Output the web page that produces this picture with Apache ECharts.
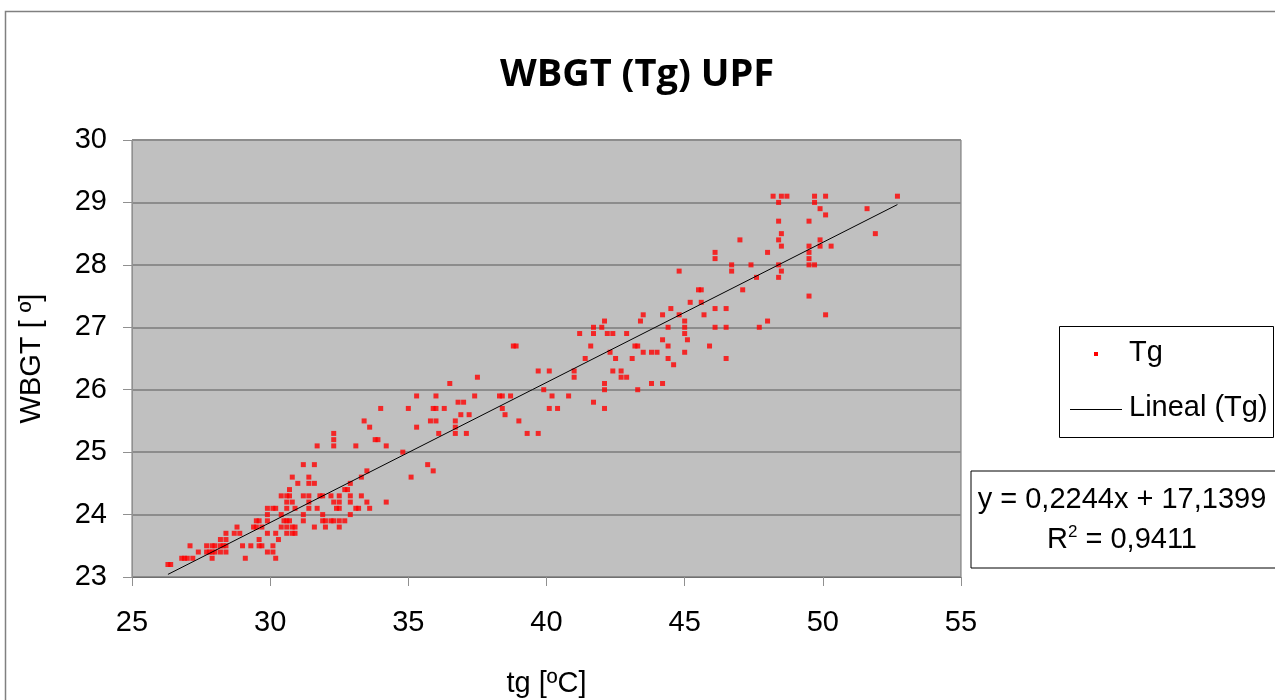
<!DOCTYPE html>
<html>
<head>
<meta charset="utf-8">
<title>WBGT (Tg) UPF</title>
<script src="https://cdn.jsdelivr.net/npm/echarts@6/dist/echarts.min.js"></script>
<style>
  html, body { margin: 0; padding: 0; background: #ffffff; }
  #chart { width: 1275px; height: 700px; }
</style>
</head>
<body>
<div id="chart"></div>
<script>
// WBGT readings grouped by value; each level lists the globe temperatures (tg) measured at it
const wbgtLevels = [
  23.2, 23.3, 23.4, 23.5, 23.6, 23.7, 23.8, 23.9, 24.0, 24.1,
  24.2, 24.3, 24.4, 24.5, 24.6, 24.7, 24.8, 25.0, 25.1, 25.2,
  25.3, 25.4, 25.5, 25.6, 25.7, 25.8, 25.9, 26.0, 26.1, 26.2,
  26.3, 26.4, 26.5, 26.6, 26.7, 26.8, 26.9, 27.0, 27.1, 27.2,
  27.3, 27.4, 27.5, 27.6, 27.8, 27.9, 28.0, 28.1, 28.2, 28.3,
  28.4, 28.5, 28.7, 28.8, 28.9, 29.0, 29.1
];
const tgAtLevel = [
  [26.3, 26.4],
  [26.8, 26.9, 27.0, 27.2, 27.9, 29.1, 30.2],
  [27.4, 27.7, 27.8, 27.9, 28.0, 28.2, 28.4, 29.9, 30.1],
  [27.1, 27.7, 27.9, 28.0, 28.2, 28.3, 28.4, 29.0, 29.3, 29.6, 29.7, 30.1],
  [28.2, 28.4, 29.6, 30.3],
  [28.4, 28.7, 28.9, 29.9, 30.2, 30.6, 30.8, 30.9],
  [28.8, 29.4, 29.5, 29.7, 30.4, 30.6, 30.8, 30.9, 31.6, 32.0, 32.5],
  [29.5, 29.6, 29.9, 30.5, 30.6, 30.7, 31.2, 31.9, 32.0, 32.2, 32.3, 32.5, 32.7],
  [29.9, 30.4, 31.2, 31.9, 32.9],
  [29.9, 30.1, 30.2, 30.6, 30.9, 31.4, 31.7, 32.4, 32.5, 33.1, 33.2, 33.6],
  [30.6, 30.8, 31.4, 32.3, 32.5, 32.9, 33.5, 34.2],
  [30.4, 30.6, 30.7, 31.2, 31.4, 31.8, 31.9, 32.2, 32.5, 32.9, 33.3],
  [30.7, 32.7, 32.8],
  [31.0, 31.4, 31.6, 32.9],
  [30.8, 31.4, 33.3, 35.1],
  [33.5, 35.9],
  [31.2, 31.6, 35.7],
  [34.8],
  [31.7, 32.3, 33.1, 34.2],
  [32.3, 33.8, 33.9],
  [32.3, 36.1, 36.7, 37.1, 39.3, 39.7],
  [33.6, 35.3, 36.7],
  [33.4, 35.8, 36.0, 36.7, 39.0],
  [36.9, 37.2, 38.5],
  [34.0, 35.0, 35.9, 36.0, 36.3, 38.4, 40.1, 40.4, 42.1],
  [36.8, 37.0, 41.7],
  [35.3, 36.0, 37.4, 38.3, 38.4, 38.7, 40.2, 40.8],
  [39.9, 42.1, 43.3],
  [36.5, 42.1, 43.8, 44.2],
  [37.5, 41.0, 42.7, 42.9],
  [39.7, 40.1, 41.0, 42.4, 42.7],
  [44.6],
  [41.4, 42.5, 43.1, 44.4, 46.5],
  [42.3, 43.5, 43.8, 44.0, 45.0],
  [38.8, 38.9, 41.6, 43.2, 43.3, 44.4, 45.9],
  [44.2, 45.1],
  [41.2, 41.7, 42.2, 42.4, 42.9, 45.0],
  [41.7, 42.0, 44.4, 45.0, 46.1, 46.5, 47.7],
  [42.1, 43.4, 45.0, 48.0],
  [43.5, 44.2, 44.8, 45.7, 50.1],
  [44.5, 46.1, 46.5],
  [45.2, 45.6],
  [49.5],
  [45.5, 45.6, 47.1],
  [47.6, 48.4],
  [44.8, 46.7, 48.5],
  [46.7, 47.4, 48.4, 49.5, 49.7],
  [46.1, 49.5],
  [46.1, 48.0, 49.5],
  [48.5, 49.5, 49.9, 50.3],
  [47.0, 48.4, 49.9],
  [48.5, 51.9],
  [48.4, 49.5],
  [50.1],
  [49.9, 51.6],
  [48.4, 49.7],
  [48.2, 48.5, 48.7, 49.7, 50.1, 52.7]
];

// Linear trendline coefficients
const slope = 0.2244;
const intercept = 17.1399;
const rSquared = 0.9411;

const xTicks = [25, 30, 35, 40, 45, 50, 55];
const yTicks = [23, 24, 25, 26, 27, 28, 29, 30];

// Build [tg, wbgt] pairs
const points = [];
wbgtLevels.forEach(function (w, i) {
  tgAtLevel[i].forEach(function (t) { points.push([t, w]); });
});

const tgValues = points.map(function (p) { return p[0]; });
const tgMin = Math.min.apply(null, tgValues);
const tgMax = Math.max.apply(null, tgValues);
const trend = [
  [tgMin, slope * tgMin + intercept],
  [tgMax, slope * tgMax + intercept]
];

const fmt = function (v, d) { return v.toFixed(d).replace('.', ','); };
const sign = intercept >= 0 ? ' + ' : ' - ';
const eqText = 'y = ' + fmt(slope, 4) + 'x' + sign + fmt(Math.abs(intercept), 4);
const r2Text = 'R{sup|2} = ' + fmt(rSquared, 4);

const FONT = '"Liberation Sans", Arial, sans-serif';

const chart = echarts.init(document.getElementById('chart'), null, { renderer: 'canvas' });

chart.setOption({
  backgroundColor: '#ffffff',
  animation: false,
  title: {
    text: 'WBGT (Tg) UPF',
    left: 632,
    textAlign: 'center',
    top: 51,
    textStyle: {
      fontFamily: '"Open Sans", sans-serif',
      fontWeight: 700,
      fontSize: 38,
      color: '#000000'
    }
  },
  grid: {
    left: 132,
    top: 140,
    width: 829,
    height: 437,
    containLabel: false,
    outerBoundsMode: 'none',
    show: true,
    backgroundColor: '#c0c0c0',
    borderColor: '#707070',
    borderWidth: 1
  },
  xAxis: {
    type: 'value',
    min: xTicks[0],
    max: xTicks[xTicks.length - 1],
    interval: xTicks[1] - xTicks[0],
    name: 'tg [ºC]',
    nameLocation: 'middle',
    nameGap: 92,
    nameTextStyle: { fontFamily: FONT, fontSize: 29, color: '#000000' },
    axisLine: { show: true, lineStyle: { color: '#707070', width: 1 } },
    axisTick: { show: true, inside: false, length: 9, lineStyle: { color: '#909090', width: 1 } },
    axisLabel: { fontFamily: FONT, fontSize: 29, color: '#000000', margin: 31 },
    splitLine: { show: false }
  },
  yAxis: {
    type: 'value',
    min: yTicks[0],
    max: yTicks[yTicks.length - 1],
    interval: yTicks[1] - yTicks[0],
    name: 'WBGT [ º]',
    nameLocation: 'middle',
    nameGap: 86,
    nameRotate: 90,
    nameTextStyle: { fontFamily: FONT, fontSize: 29, color: '#000000' },
    axisLine: { show: true, lineStyle: { color: '#909090', width: 1 } },
    axisTick: { show: true, inside: false, length: 9, lineStyle: { color: '#909090', width: 1 } },
    axisLabel: { fontFamily: FONT, fontSize: 29, color: '#000000', margin: 25 },
    splitLine: { show: true, lineStyle: { color: '#8c8c8c', width: 2 } }
  },
  series: [
    {
      name: 'Tg',
      type: 'scatter',
      data: points,
      symbol: 'rect',
      symbolSize: 5,
      itemStyle: { color: '#ff0000' },
      z: 3
    },
    {
      name: 'Lineal (Tg)',
      type: 'line',
      data: trend,
      showSymbol: false,
      symbol: 'none',
      lineStyle: { color: '#000000', width: 1 },
      z: 4
    }
  ],
  graphic: [
    // chart frame
    {
      type: 'rect', z: -1, silent: true,
      shape: { x: 5.5, y: 11.5, width: 1300, height: 720 },
      style: { fill: 'none', stroke: '#808080', lineWidth: 1.5 }
    },
    // legend box
    {
      type: 'rect', silent: true,
      shape: { x: 1059.5, y: 326.5, width: 214, height: 111 },
      style: { fill: '#ffffff', stroke: '#000000', lineWidth: 1 }
    },
    {
      type: 'rect', silent: true,
      shape: { x: 1094, y: 352, width: 4, height: 4 },
      style: { fill: '#ff0000' }
    },
    {
      type: 'text', silent: true, left: 1129, top: 338,
      style: { text: 'Tg', font: '29px ' + FONT, fill: '#000000' }
    },
    {
      type: 'line', silent: true,
      shape: { x1: 1070, y1: 409.5, x2: 1122, y2: 409.5 },
      style: { stroke: '#000000', lineWidth: 1 }
    },
    {
      type: 'text', silent: true, left: 1129, top: 393,
      style: { text: 'Lineal (Tg)', font: '29px ' + FONT, fill: '#000000' }
    },
    // trendline equation box
    {
      type: 'rect', silent: true,
      shape: { x: 971, y: 471, width: 330, height: 97 },
      style: { fill: '#ffffff', stroke: '#000000', lineWidth: 1 }
    },
    {
      type: 'text', silent: true, x: 1122, y: 500,
      style: {
        text: eqText, font: '29px ' + FONT, fill: '#000000',
        align: 'center', verticalAlign: 'middle'
      }
    },
    {
      type: 'text', silent: true, x: 1122, y: 540,
      style: {
        text: r2Text, font: '29px ' + FONT, fill: '#000000',
        align: 'center', verticalAlign: 'middle',
        rich: {
          sup: { fontFamily: FONT, fontSize: 17, verticalAlign: 'top', padding: [0, 0, 16, 0] }
        }
      }
    }
  ]
});
</script>
</body>
</html>
